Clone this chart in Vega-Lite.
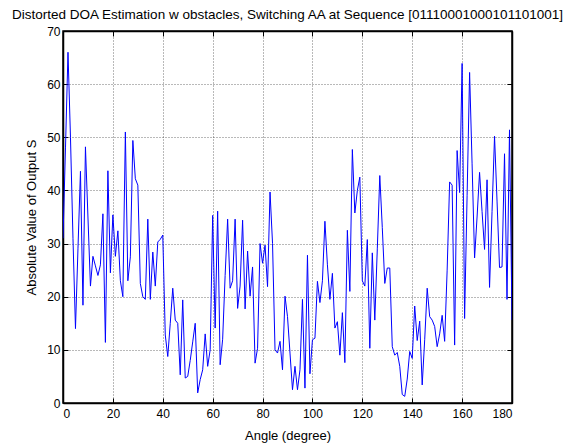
{
  "$schema": "https://vega.github.io/schema/vega-lite/v6.json",
  "width": 449,
  "height": 372,
  "autosize": "none",
  "padding": {"left": 63, "top": 31, "right": 52, "bottom": 42},
  "background": "white",
  "title": {"text": "Distorted DOA Estimation w obstacles, Switching AA at Sequence [01110001000101101001]", "fontSize": 13.5, "font": "Liberation Sans", "fontWeight": "normal", "color": "black", "anchor": "middle", "offset": 4},
  "data": {"values": [
    {"a":0,"s":31},{"a":1,"s":48},{"a":2,"s":66},{"a":3,"s":50},{"a":4,"s":31},{"a":5,"s":14},{"a":6,"s":29},{"a":7,"s":43.6},{"a":8,"s":18.4},{"a":9,"s":48.2},
    {"a":10,"s":35},{"a":11,"s":22},{"a":12,"s":27.6},{"a":13,"s":25.8},{"a":14,"s":24},{"a":15,"s":26},{"a":16,"s":35.6},{"a":17,"s":11.4},{"a":18,"s":43.7},{"a":19,"s":24.5},
    {"a":20,"s":35.4},{"a":21,"s":27.6},{"a":22,"s":32.4},{"a":23,"s":23},{"a":24,"s":20},{"a":25,"s":51},{"a":26,"s":23},{"a":27,"s":27.5},{"a":28,"s":49.4},{"a":29,"s":42.2},
    {"a":30,"s":41},{"a":31,"s":22.5},{"a":32,"s":20},{"a":33,"s":19.5},{"a":34,"s":34.6},{"a":35,"s":19.5},{"a":36,"s":28.4},{"a":37,"s":22},{"a":38,"s":30.3},{"a":39,"s":30.8},
    {"a":40,"s":31.6},{"a":41,"s":12.8},{"a":42,"s":8.75},{"a":43,"s":15},{"a":44,"s":21.6},{"a":45,"s":15.6},{"a":46,"s":15},{"a":47,"s":5.3},{"a":48,"s":19.4},{"a":49,"s":4.7},
    {"a":50,"s":5},{"a":51,"s":8},{"a":52,"s":11.5},{"a":53,"s":15},{"a":54,"s":1.9},{"a":55,"s":4.4},{"a":56,"s":6.25},{"a":57,"s":13},{"a":58,"s":6.9},{"a":59,"s":10},
    {"a":60,"s":35.3},{"a":61,"s":14.1},{"a":62,"s":36.1},{"a":63,"s":7.2},{"a":64,"s":12},{"a":65,"s":24},{"a":66,"s":34.6},{"a":67,"s":21.6},{"a":68,"s":23},{"a":69,"s":34.6},
    {"a":70,"s":17.8},{"a":71,"s":22},{"a":72,"s":34.4},{"a":73,"s":17.7},{"a":74,"s":28.6},{"a":75,"s":20.1},{"a":76,"s":25.6},{"a":77,"s":7.5},{"a":78,"s":10.3},{"a":79,"s":30},
    {"a":80,"s":26.3},{"a":81,"s":29.7},{"a":82,"s":21.9},{"a":83,"s":39.7},{"a":84,"s":30},{"a":85,"s":10},{"a":86,"s":9.4},{"a":87,"s":11.6},{"a":88,"s":6.25},{"a":89,"s":20.1},
    {"a":90,"s":16.25},{"a":91,"s":9.4},{"a":92,"s":2.5},{"a":93,"s":6.9},{"a":94,"s":2.5},{"a":95,"s":6.25},{"a":96,"s":19.5},{"a":97,"s":2.8},{"a":98,"s":27.8},{"a":99,"s":5.5},
    {"a":100,"s":11.9},{"a":101,"s":12.2},{"a":102,"s":22.9},{"a":103,"s":18.9},{"a":104,"s":23},{"a":105,"s":34.2},{"a":106,"s":26},{"a":107,"s":19.5},{"a":108,"s":24.4},{"a":109,"s":14.1},
    {"a":110,"s":15.3},{"a":111,"s":9},{"a":112,"s":17},{"a":113,"s":7.6},{"a":114,"s":32.5},{"a":115,"s":21},{"a":116,"s":47.7},{"a":117,"s":35.75},{"a":118,"s":40},{"a":119,"s":42.5},
    {"a":120,"s":23},{"a":121,"s":22},{"a":122,"s":30.75},{"a":123,"s":10.3},{"a":124,"s":28.25},{"a":125,"s":15.6},{"a":126,"s":29},{"a":127,"s":42.8},{"a":128,"s":33},{"a":129,"s":22.5},
    {"a":130,"s":25.4},{"a":131,"s":25.4},{"a":132,"s":10.6},{"a":133,"s":9},{"a":134,"s":9.5},{"a":135,"s":6.9},{"a":136,"s":1.6},{"a":137,"s":1.25},{"a":138,"s":4.5},{"a":139,"s":9.7},
    {"a":140,"s":8.4},{"a":141,"s":18.25},{"a":142,"s":11.75},{"a":143,"s":15.4},{"a":144,"s":3.4},{"a":145,"s":11.9},{"a":146,"s":21.6},{"a":147,"s":16.25},{"a":148,"s":15.6},{"a":149,"s":14.4},
    {"a":150,"s":10.6},{"a":151,"s":13},{"a":152,"s":16.5},{"a":153,"s":11.6},{"a":154,"s":25},{"a":155,"s":41.6},{"a":156,"s":41},{"a":157,"s":10.9},{"a":158,"s":47.5},{"a":159,"s":39.6},
    {"a":160,"s":63.9},{"a":161,"s":15.9},{"a":162,"s":39},{"a":163,"s":62.2},{"a":164,"s":45},{"a":165,"s":27.3},{"a":166,"s":35},{"a":167,"s":43.4},{"a":168,"s":36},{"a":169,"s":28.9},
    {"a":170,"s":42},{"a":171,"s":21.75},{"a":172,"s":36},{"a":173,"s":50.2},{"a":174,"s":38},{"a":175,"s":25.5},{"a":176,"s":25.6},{"a":177,"s":46.9},{"a":178,"s":19.5},{"a":179,"s":51.4},
    {"a":180,"s":15.6}
  ]},
  "layer": [
    {
      "mark": {"type": "line", "color": "#0000ff", "strokeWidth": 1, "clip": true},
      "encoding": {
        "x": {"field": "a", "type": "quantitative", "scale": {"domain": [0, 180], "nice": false},
          "axis": {"title": "Angle (degree)", "orient": "bottom", "values": [0,20,40,60,80,100,120,140,160,180], "labelPadding": 10, "titlePadding": 10}},
        "y": {"field": "s", "type": "quantitative", "scale": {"domain": [0, 70], "nice": false},
          "axis": {"title": "Absolute Value of Output S", "orient": "left", "values": [0,10,20,30,40,50,60,70], "titlePadding": 8}}
      }
    },
    {
      "mark": {"type": "line", "opacity": 0},
      "encoding": {
        "x": {"field": "a", "type": "quantitative",
          "axis": {"title": null, "orient": "top", "labels": false, "grid": false, "values": [0,20,40,60,80,100,120,140,160,180]}},
        "y": {"field": "s", "type": "quantitative",
          "axis": {"title": null, "orient": "right", "labels": false, "grid": false, "values": [0,10,20,30,40,50,60,70]}}
      }
    }
  ],
  "resolve": {"axis": {"x": "independent", "y": "independent"}},
  "config": {
    "font": "Liberation Sans",
    "view": {"stroke": "black", "strokeWidth": 1.5},
    "axis": {
      "labelFont": "Liberation Sans", "labelFontSize": 12, "labelColor": "black",
      "titleFont": "Liberation Sans", "titleFontSize": 13, "titleFontWeight": "normal", "titleColor": "black",
      "domainColor": "black", "domainWidth": 1.5, "tickColor": "black", "tickSize": -5, "labelPadding": 8,
      "grid": true, "gridColor": "#000000", "gridOpacity": 0.55, "gridDash": [1, 2], "gridWidth": 1
    }
  }
}
